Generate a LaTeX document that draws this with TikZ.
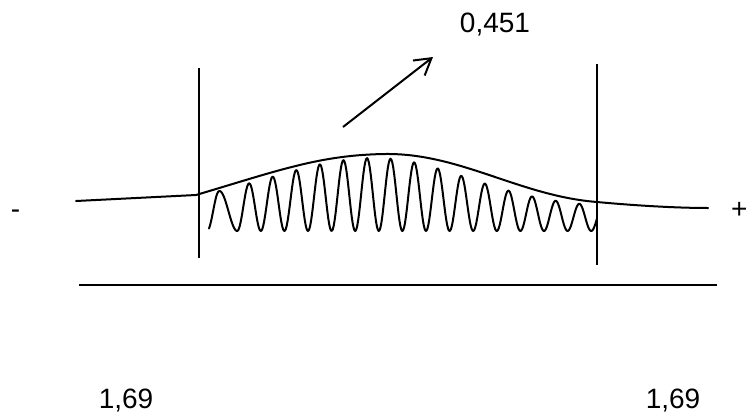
\documentclass[tikz,border=0pt]{standalone}
\usepackage{fontspec}
\setmainfont{Liberation Sans}
\usetikzlibrary{arrows.meta,positioning}

\begin{document}
\begin{tikzpicture}[
    x=1pt, y=-1pt,
    numtext/.style={font=\fontsize{28}{32}\selectfont, inner sep=0pt, anchor=base},
    signtext/.style={numtext, anchor=base west},
    axisline/.style={line width=2.2pt},
    wave/.style={line width=2pt, line join=round, line cap=round},
    link/.style={-{Straight Barb[length=16pt,width=19pt]}, line width=2pt},
    declare function={
        wd(\x)=(\x<375) ? 150 : 130;
        pk(\x)=208-50*exp(0-((\x-375)/wd(\x))*((\x-375)/wd(\x)));
        wv(\x,\p)=231-(231-pk(\x))*(1+cos(\p))/2;
    }
]
\useasboundingbox (0,0) rectangle (747,418);

% texts
\node[numtext] (val) at (495,32) {0,451};
\node[numtext] (lft) at (126,408) {1,69};
\node[numtext] (rgt) at (673,408) {1,69};
\node[signtext] (minus) at (10.7,218) {-};
\node[signtext] (plus) at (731,218) {+};

% arrow
\coordinate (tail) at (343,127);
\coordinate (tip) at (433,57);
\draw[link] (tail) -- (tip);

% limits and base line
\draw[axisline] (199,68) -- (199,258);
\draw[axisline] (597,64) -- (597,265);
\draw[axisline] (79,285) -- (717,285);

% envelope
\draw[wave] (76,201) -- (196,195)
    .. controls (280,170) and (320,155) .. (385,154)
    .. controls (460,153) and (520,196) .. (597,202)
    .. controls (640,206) and (680,208) .. (708,208);

% oscillation
\draw[wave] plot[domain=209:219, samples=12] (\x, {wv(\x,(\x-219)*15)})
    -- plot[domain=219:237.2, samples=20] (\x, {wv(\x,(\x-219)*9.8901)})
    -- plot[domain=237.2:597, samples=400] (\x, {wv(\x,(\x-249)*15.2542)});
\end{tikzpicture}
\end{document}
